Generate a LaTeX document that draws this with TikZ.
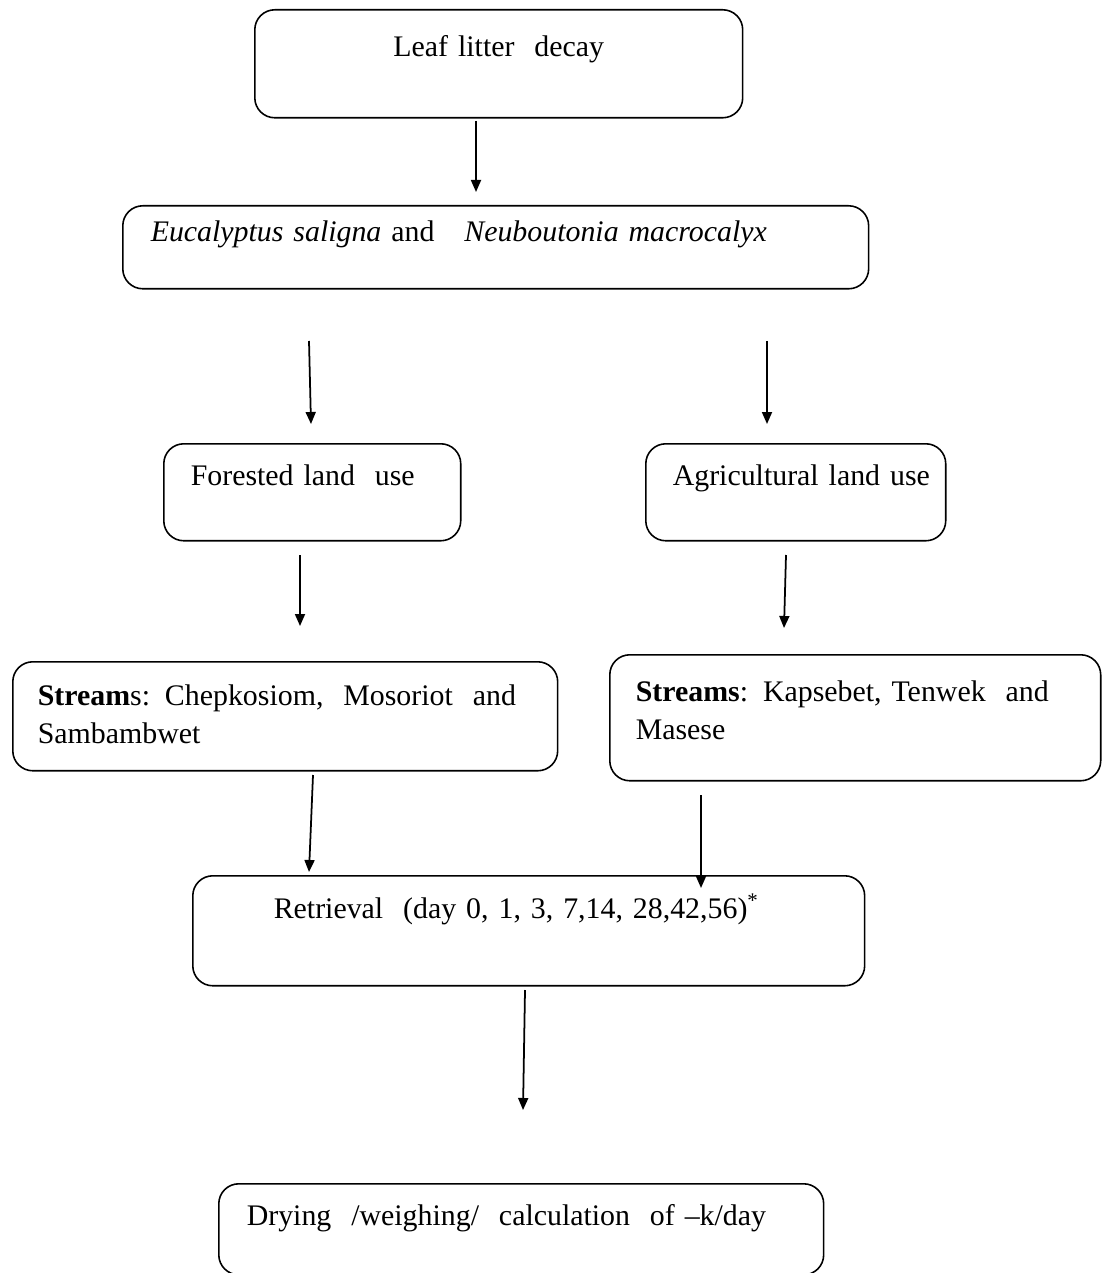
\documentclass[tikz,border=0pt]{standalone}
\usepackage{fontspec}
\setmainfont{Liberation Serif}
\usetikzlibrary{arrows.meta}

\tikzset{
  stage/.style={draw, line width=0.9pt, rounded corners=0.4cm, inner ysep=0pt,
    align=left, anchor=north west, font=\fontsize{17}{21.6}\selectfont},
  flow/.style={line width=1pt, -{Triangle[length=0.24cm,width=0.2cm]}}
}

\begin{document}
\begin{tikzpicture}[x=0.02cm, y=-0.02cm]
  %%%%% START %%%%%
  \useasboundingbox (0,0) rectangle (1101,1273);

  % boxes
  \node[stage, align=center, inner xsep=0pt, text width=9.76cm, text height=0.94cm, text depth=1.22cm]
    (leaf) at (254,9) {Leaf litter\ \ decay};
  \node[stage, inner xsep=0.56cm, text width=13.8cm, text height=0.72cm, text depth=0.94cm]
    (species) at (122,205) {\textit{Eucalyptus saligna} and\ \ \ \textit{Neuboutonia macrocalyx}};

  \node[stage, inner xsep=0.54cm, text width=4.86cm, text height=0.84cm, text depth=1.1cm]
    (forest) at (163,443) {Forested land\ \ use};
  \node[stage, inner xsep=0.54cm, text width=4.92cm, text height=0.84cm, text depth=1.1cm]
    (agri) at (645,443) {\mbox{Agricultural land use}};

  \node[stage, inner xsep=0.5cm, text width=9.9cm, text height=0.88cm, text depth=1.3cm]
    (streamsF) at (12,661) {\textbf{Stream}s: Chepkosiom,\ \ Mosoriot\ \ and\\Sambambwet};
  \node[stage, inner xsep=0.52cm, text width=8.78cm, text height=0.94cm, text depth=1.58cm]
    (streamsA) at (609,654) {\textbf{Streams}: Kapsebet, Tenwek\ \ and\\Masese};

  \node[stage, inner xsep=1.62cm, text width=10.2cm, text height=0.86cm, text depth=1.34cm]
    (retrieval) at (192,875) {Retrieval\ \ (day 0, 1, 3, 7,14, 28,42,56)\textsuperscript{*}};
  \node[stage, inner xsep=0.56cm, text width=10.98cm, text height=0.84cm, text depth=0.98cm]
    (drying) at (218,1183) {Drying\ \ /weighing/\ \ calculation\ \ of –k/day};

  % arrow ends
  \coordinate (t1) at (476,121);  \coordinate (h1) at (476,192);
  \coordinate (t2) at (309,341);  \coordinate (h2) at (311,424);
  \coordinate (t3) at (767,341);  \coordinate (h3) at (767,424);
  \coordinate (t4) at (300,555);  \coordinate (h4) at (300,626);
  \coordinate (t5) at (786,555);  \coordinate (h5) at (784,628);
  \coordinate (t6) at (313,775);  \coordinate (h6) at (309,872);
  \coordinate (t7) at (701,795);  \coordinate (h7) at (701,888);
  \coordinate (t8) at (525,990);  \coordinate (h8) at (523,1110);

  % arrows
  \foreach \i in {1,...,8}
    \draw[flow] (t\i) -- (h\i);
  %%%%% END %%%%%
\end{tikzpicture}
\end{document}
